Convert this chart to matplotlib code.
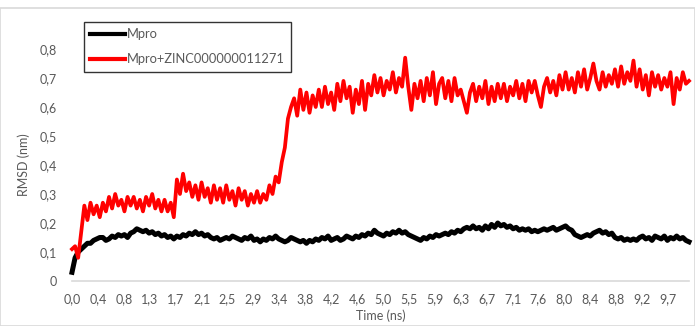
import numpy as np
import matplotlib
matplotlib.use('Agg')
import matplotlib.pyplot as plt
from matplotlib.patches import Rectangle

plt.rcParams['font.family'] = ['Lato', 'DejaVu Sans']

# RMSD values (nm), one every 0.05 ns from 0 to 10 ns
mpro = [
    0.03, 0.08, 0.10, 0.11, 0.12, 0.13, 0.13, 0.14, 0.145, 0.15,
    0.15, 0.14, 0.145, 0.155, 0.15, 0.16, 0.155, 0.16, 0.15, 0.165,
    0.17, 0.18, 0.175, 0.17, 0.175, 0.165, 0.17, 0.16, 0.165, 0.155,
    0.16, 0.15, 0.155, 0.145, 0.155, 0.15, 0.16, 0.155, 0.165, 0.16,
    0.17, 0.16, 0.165, 0.155, 0.16, 0.15, 0.145, 0.15, 0.14, 0.145,
    0.15, 0.145, 0.155, 0.15, 0.145, 0.14, 0.15, 0.145, 0.155, 0.14,
    0.145, 0.135, 0.145, 0.14, 0.15, 0.145, 0.155, 0.145, 0.14, 0.135,
    0.14, 0.15, 0.145, 0.14, 0.135, 0.14, 0.13, 0.14, 0.135, 0.145,
    0.14, 0.15, 0.145, 0.155, 0.14, 0.145, 0.15, 0.14, 0.145, 0.155,
    0.15, 0.145, 0.155, 0.15, 0.16, 0.155, 0.165, 0.16, 0.175, 0.165,
    0.16, 0.155, 0.165, 0.16, 0.17, 0.165, 0.175, 0.165, 0.17, 0.16,
    0.155, 0.15, 0.145, 0.14, 0.15, 0.145, 0.155, 0.15, 0.16, 0.155,
    0.16, 0.165, 0.16, 0.17, 0.165, 0.175, 0.17, 0.18, 0.185, 0.18,
    0.19, 0.18, 0.185, 0.175, 0.19, 0.18, 0.195, 0.185, 0.20, 0.19,
    0.195, 0.185, 0.19, 0.18, 0.185, 0.175, 0.18, 0.175, 0.18, 0.17,
    0.175, 0.17, 0.175, 0.18, 0.175, 0.18, 0.185, 0.175, 0.18, 0.185,
    0.19, 0.18, 0.175, 0.16, 0.155, 0.15, 0.155, 0.16, 0.155, 0.165,
    0.17, 0.175, 0.165, 0.17, 0.16, 0.165, 0.15, 0.145, 0.15, 0.14,
    0.145, 0.14, 0.145, 0.14, 0.15, 0.155, 0.145, 0.15, 0.14, 0.155,
    0.15, 0.145, 0.155, 0.14, 0.15, 0.145, 0.155, 0.145, 0.15, 0.14,
    0.135,
]

mpro_zinc = [
    0.11, 0.12, 0.08, 0.17, 0.26, 0.21, 0.27, 0.23, 0.26, 0.22,
    0.27, 0.24, 0.29, 0.25, 0.30, 0.26, 0.28, 0.24, 0.29, 0.26,
    0.29, 0.25, 0.28, 0.24, 0.29, 0.26, 0.30, 0.25, 0.28, 0.24,
    0.28, 0.24, 0.27, 0.22, 0.35, 0.30, 0.37, 0.31, 0.34, 0.29,
    0.33, 0.28, 0.34, 0.29, 0.32, 0.27, 0.33, 0.28, 0.32, 0.27,
    0.33, 0.28, 0.31, 0.26, 0.32, 0.28, 0.31, 0.26, 0.30, 0.27,
    0.31, 0.27, 0.30, 0.28, 0.33, 0.30, 0.36, 0.34, 0.41, 0.46,
    0.56, 0.60, 0.63, 0.57, 0.66, 0.59, 0.65, 0.58, 0.64, 0.60,
    0.66, 0.60, 0.67, 0.61, 0.65, 0.59, 0.68, 0.62, 0.69, 0.63,
    0.67, 0.58, 0.66, 0.61, 0.69, 0.59, 0.68, 0.64, 0.71, 0.65,
    0.70, 0.64, 0.69, 0.66, 0.72, 0.65, 0.70, 0.67, 0.77, 0.67,
    0.59, 0.68, 0.63, 0.69, 0.62, 0.70, 0.64, 0.72, 0.61, 0.68,
    0.70, 0.63, 0.69, 0.62, 0.70, 0.64, 0.66, 0.62, 0.58, 0.65,
    0.68, 0.62, 0.67, 0.63, 0.69, 0.61, 0.67, 0.62, 0.68, 0.63,
    0.68, 0.62, 0.67, 0.64, 0.69, 0.63, 0.68, 0.62, 0.69, 0.65,
    0.69, 0.64, 0.60, 0.67, 0.70, 0.65, 0.69, 0.64, 0.71, 0.66,
    0.72, 0.66, 0.70, 0.65, 0.72, 0.67, 0.73, 0.66, 0.70, 0.75,
    0.69, 0.66, 0.72, 0.67, 0.71, 0.68, 0.73, 0.67, 0.74, 0.68,
    0.72, 0.69, 0.76, 0.67, 0.73, 0.66, 0.71, 0.64, 0.72, 0.67,
    0.71, 0.66, 0.70, 0.67, 0.72, 0.61, 0.70, 0.66, 0.72, 0.68,
    0.69,
]

time = np.linspace(0, 10, len(mpro))

tick_pos = np.arange(24) * 0.42
tick_labels = ['0,0', '0,4', '0,8', '1,3', '1,7', '2,1', '2,5', '2,9', '3,4',
               '3,8', '4,2', '4,6', '5,0', '5,5', '5,9', '6,3', '6,7', '7,1',
               '7,6', '8,0', '8,4', '8,8', '9,2', '9,7']
y_ticks = [0, 0.1, 0.2, 0.3, 0.4, 0.5, 0.6, 0.7, 0.8]
y_labels = ['0', '0,1', '0,2', '0,3', '0,4', '0,5', '0,6', '0,7', '0,8']

grey = '#595959'

fig = plt.figure(figsize=(6.95, 3.26), dpi=100)
fig.patches.append(Rectangle((0, 0), 1, 1 - 8 / 326, transform=fig.transFigure,
                             fill=False, edgecolor='#d9d9d9', linewidth=1.2))
ax = fig.add_axes([72 / 695, 1 - 281 / 326, (689 - 72) / 695, (281 - 49) / 326])

ax.plot(time, mpro, color='black', linewidth=3.6, label='Mpro', clip_on=False)
ax.plot(time, mpro_zinc, color='#ff0000', linewidth=2.7,
        label='Mpro+ZINC000000011271', clip_on=False)

ax.set_xlim(0, 10)
ax.set_ylim(0, 0.8)
ax.set_xticks(tick_pos)
ax.set_xticklabels(tick_labels)
ax.set_yticks(y_ticks)
ax.set_yticklabels(y_labels)
ax.tick_params(length=0, labelsize=9, colors=grey)
ax.tick_params(axis='x', pad=9)
ax.tick_params(axis='y', pad=11)
for s in ['top', 'right', 'left']:
    ax.spines[s].set_visible(False)
ax.spines['bottom'].set_color('#d9d9d9')
ax.spines['bottom'].set_linewidth(1.2)

ax.set_xlabel('Time (ns)', fontsize=9, color=grey, labelpad=3)
ax.set_ylabel('RMSD (nm)', fontsize=9, color=grey, labelpad=7)

leg = ax.legend(loc='upper left', bbox_to_anchor=(12 / 617, 1 + 27 / 232),
                borderaxespad=0, fontsize=9.3, frameon=True, fancybox=False,
                handlelength=2.7, handletextpad=0.1, borderpad=0.5,
                labelspacing=1.0)
leg.get_frame().set_edgecolor('black')
leg.get_frame().set_linewidth(1.0)
for line in leg.get_lines():
    line.set_linewidth(3.0)
for t in leg.get_texts():
    t.set_color(grey)

fig.savefig('out.png', dpi=100)
